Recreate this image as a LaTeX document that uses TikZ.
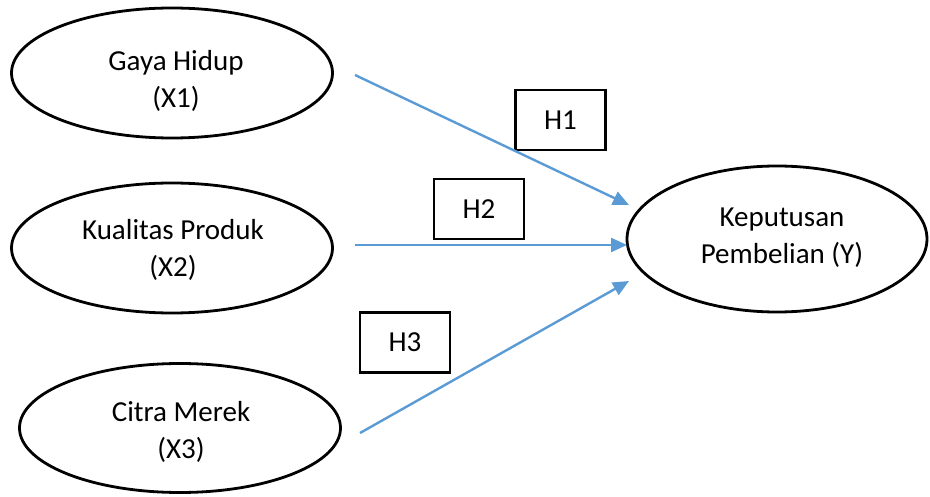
\documentclass[tikz,border=0pt]{standalone}
\usepackage{fontspec}
\setmainfont{Carlito}
\usetikzlibrary{shapes.geometric,arrows.meta}
\definecolor{arrowblue}{HTML}{5B9BD5}
\begin{document}
\begin{tikzpicture}[x=1pt,y=-1pt,
 var/.style={ellipse,draw=black,line width=2.8pt,inner sep=0pt},
 lbl/.style={font=\fontsize{29}{37}\selectfont,align=center,inner sep=0pt},
 hbox/.style={draw=black,line width=2.8pt,minimum width=90pt,minimum height=60pt,inner sep=0pt,font=\fontsize{29}{32}\selectfont},
 link/.style={draw=arrowblue,line width=2.4pt,-{Triangle[length=16pt,width=14pt]}}]
\useasboundingbox (0,0) rectangle (930,497);
% variables
\node[var,minimum width=321pt,minimum height=130pt] (x1) at (172,73) {};
\node[var,minimum width=321pt,minimum height=130pt] (x2) at (172,248) {};
\node[var,minimum width=321pt,minimum height=129pt] (x3) at (180,428) {};
\node[var,minimum width=300pt,minimum height=146pt] (y) at (777,239) {};
\node[lbl] (tx1) at (176,81) {Gaya Hidup\\(X1)};
\node[lbl] (tx2) at (173,250) {Kualitas Produk\\(X2)};
\node[lbl] (tx3) at (181,432) {Citra Merek\\(X3)};
\node[lbl] (ty) at (782,238) {Keputusan\\Pembelian (Y)};
% hypothesis boxes
\node[hbox] (h1) at (560.5,120) {H1};
\node[hbox] (h2) at (479,209) {H2};
\node[hbox] (h3) at (405,342.5) {H3};
% connector ends
\coordinate (s1) at (355,75);
\coordinate (s2) at (355,245);
\coordinate (s3) at (360,433);
\coordinate (e1) at (629,205);
\coordinate (e2) at (627,245);
\coordinate (e3) at (629,281);
\draw[link] (s1) -- (e1);
\draw[link] (s2) -- (e2);
\draw[link] (s3) -- (e3);
\end{tikzpicture}
\end{document}
